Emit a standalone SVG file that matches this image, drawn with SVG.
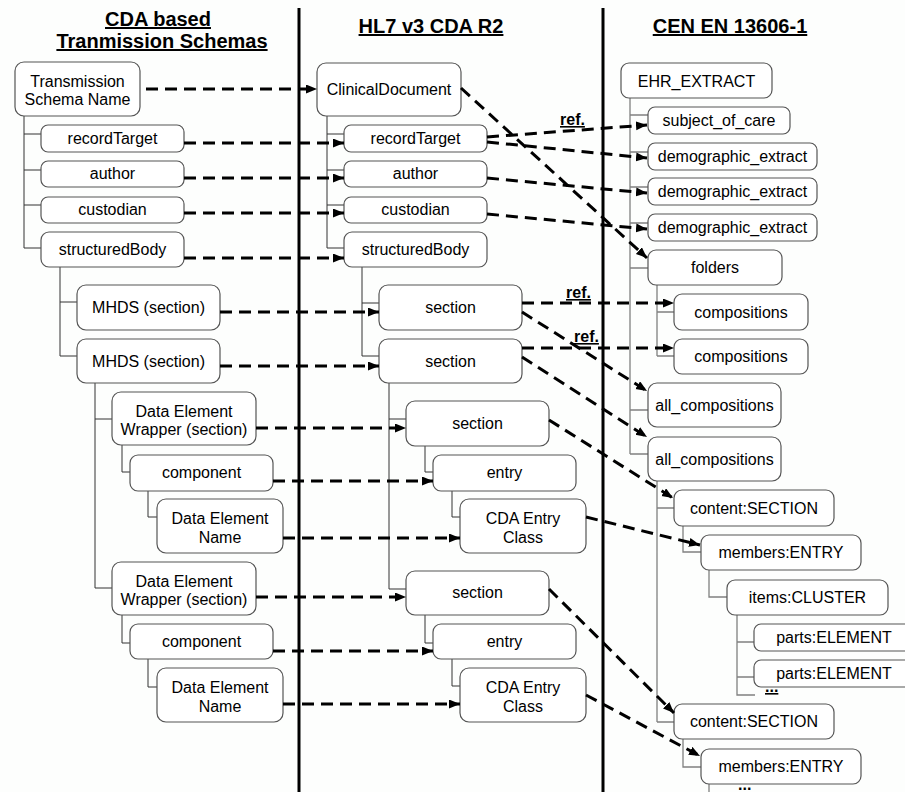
<svg xmlns="http://www.w3.org/2000/svg" width="905" height="792" viewBox="0 0 905 792">
<style>
.bg{fill:#fdfefd}
.box{fill:#ffffff;stroke:#555555;stroke-width:1.2}
.t{font-family:"Liberation Sans",Arial,sans-serif;font-size:16px;fill:#000;text-anchor:middle}
.h{font-family:"Liberation Sans",Arial,sans-serif;font-size:20px;font-weight:bold;fill:#000;text-anchor:middle;text-decoration:underline}
.ref{font-family:"Liberation Sans",Arial,sans-serif;font-size:16px;font-weight:bold;fill:#000;text-decoration:underline}
.dots{font-family:"Liberation Sans",Arial,sans-serif;font-size:16px;font-weight:bold;fill:#000}
.tree{fill:none;stroke:#333333;stroke-width:1}
.tree2{fill:none;stroke:#808080;stroke-width:1.3}
.div{stroke:#000;stroke-width:3}
.dash{fill:none;stroke:#000;stroke-width:3;stroke-dasharray:12 7;marker-end:url(#ah)}
</style>
<defs>
<marker id="ah" markerUnits="userSpaceOnUse" markerWidth="12" markerHeight="10" refX="11" refY="4.5" orient="auto">
<path d="M0,0 L11,4.5 L0,9 z" fill="#000"/>
</marker>
</defs>
<rect class="bg" x="0" y="0" width="905" height="792"/>

<g id="headers">
<text class="h" x="158" y="26">CDA based</text>
<text class="h" x="162" y="48">Tranmission Schemas</text>
<text class="h" x="431" y="33">HL7 v3 CDA R2</text>
<text class="h" x="730" y="33">CEN EN 13606-1</text>
</g>

<g id="dividers">
<line class="div" x1="299" y1="8" x2="299" y2="792"/>
<line class="div" x1="603" y1="8" x2="603" y2="792"/>
</g>

<g id="tree-lines">
<path class="tree" d="M24,116 V248 M24,134 H41 M24,170 H41 M24,205 H41 M24,248 H41
M60,267 V356 M60,302 H77 M60,356 H77
M95,383 V588 M95,419 H112 M95,588 H112
M122,445 V472 H130 M148,491 V517 H157
M122,615 V643 H130 M148,659 V687 H157"/>
<path class="tree" d="M327,116 V248 M327,134 H344 M327,170 H344 M327,205 H344 M327,248 H344
M362,267 V356 M362,303 H379 M362,356 H379
M389,383 V589 M389,419 H406 M389,589 H406
M425,446 V472 H433 M452,491 V517 H460
M425,615 V643 H433 M452,659 V686 H460"/>
<path class="tree2" d="M630,98 V454 M630,115 H648 M630,152 H648 M630,187 H648 M630,223 H648 M630,268 H648 M630,410 H648 M630,454 H648
M657,285 V356 M657,312 H674 M657,356 H674
M657,481 V722 M657,508 H674 M657,722 H674
M683,526 V552 H701 M709,570 V597 H727
M737,615 V695 H755 M737,642 H754 M737,677 H754
M683,739 V767 H701 M709,784 V792"/>
<text class="ref" x="765" y="692">...</text>
<text class="dots" x="738" y="790">...</text>
</g>

<g id="n_tsn"><rect class="box" x="15" y="62" width="125" height="54" rx="9"/><text class="t" x="77.5" y="87">Transmission</text><text class="t" x="77.5" y="105">Schema Name</text></g>
<g id="n_l_rt"><rect class="box" x="41" y="125" width="143" height="27" rx="7"/><text class="t" x="112.5" y="144">recordTarget</text></g>
<g id="n_l_au"><rect class="box" x="41" y="161" width="143" height="26" rx="7"/><text class="t" x="112.5" y="179">author</text></g>
<g id="n_l_cu"><rect class="box" x="41" y="197" width="143" height="26" rx="7"/><text class="t" x="112.5" y="215">custodian</text></g>
<g id="n_l_sb"><rect class="box" x="41" y="232" width="143" height="35" rx="8"/><text class="t" x="112.5" y="255">structuredBody</text></g>
<g id="n_l_mh1"><rect class="box" x="77" y="285" width="143" height="45" rx="9"/><text class="t" x="148.5" y="313">MHDS (section)</text></g>
<g id="n_l_mh2"><rect class="box" x="77" y="339" width="143" height="44" rx="9"/><text class="t" x="148.5" y="367">MHDS (section)</text></g>
<g id="n_l_dew1"><rect class="box" x="112" y="392" width="144" height="53" rx="9"/><text class="t" x="184" y="417">Data Element</text><text class="t" x="184" y="435">Wrapper (section)</text></g>
<g id="n_l_comp1"><rect class="box" x="130" y="455" width="143" height="36" rx="8"/><text class="t" x="201.5" y="478">component</text></g>
<g id="n_l_den1"><rect class="box" x="157" y="499" width="126" height="54" rx="9"/><text class="t" x="220" y="524">Data Element</text><text class="t" x="220" y="543">Name</text></g>
<g id="n_l_dew2"><rect class="box" x="112" y="562" width="144" height="53" rx="9"/><text class="t" x="184" y="587">Data Element</text><text class="t" x="184" y="605">Wrapper (section)</text></g>
<g id="n_l_comp2"><rect class="box" x="130" y="624" width="143" height="35" rx="8"/><text class="t" x="201.5" y="647">component</text></g>
<g id="n_l_den2"><rect class="box" x="157" y="668" width="126" height="54" rx="9"/><text class="t" x="220" y="693">Data Element</text><text class="t" x="220" y="712">Name</text></g>

<g id="n_cd"><rect class="box" x="317" y="63" width="144" height="53" rx="9"/><text class="t" x="389" y="95">ClinicalDocument</text></g>
<g id="n_m_rt"><rect class="box" x="344" y="125" width="143" height="27" rx="7"/><text class="t" x="415.5" y="144">recordTarget</text></g>
<g id="n_m_au"><rect class="box" x="344" y="161" width="143" height="26" rx="7"/><text class="t" x="415.5" y="179">author</text></g>
<g id="n_m_cu"><rect class="box" x="344" y="197" width="143" height="26" rx="7"/><text class="t" x="415.5" y="215">custodian</text></g>
<g id="n_m_sb"><rect class="box" x="344" y="232" width="143" height="35" rx="8"/><text class="t" x="415.5" y="255">structuredBody</text></g>
<g id="n_m_s1"><rect class="box" x="379" y="285" width="143" height="45" rx="9"/><text class="t" x="450.5" y="313">section</text></g>
<g id="n_m_s2"><rect class="box" x="379" y="339" width="143" height="44" rx="9"/><text class="t" x="450.5" y="367">section</text></g>
<g id="n_m_s3"><rect class="box" x="406" y="401" width="143" height="45" rx="9"/><text class="t" x="477.5" y="429">section</text></g>
<g id="n_m_e1"><rect class="box" x="433" y="455" width="143" height="36" rx="8"/><text class="t" x="504.5" y="478">entry</text></g>
<g id="n_m_c1"><rect class="box" x="460" y="499" width="126" height="54" rx="9"/><text class="t" x="523" y="524">CDA Entry</text><text class="t" x="523" y="543">Class</text></g>
<g id="n_m_s4"><rect class="box" x="406" y="571" width="143" height="44" rx="9"/><text class="t" x="477.5" y="598">section</text></g>
<g id="n_m_e2"><rect class="box" x="433" y="624" width="143" height="35" rx="8"/><text class="t" x="504.5" y="647">entry</text></g>
<g id="n_m_c2"><rect class="box" x="460" y="668" width="126" height="54" rx="9"/><text class="t" x="523" y="693">CDA Entry</text><text class="t" x="523" y="712">Class</text></g>

<g id="n_ehr"><rect class="box" x="621" y="63" width="151" height="35" rx="8"/><text class="t" x="696.5" y="87">EHR_EXTRACT</text></g>
<g id="n_soc"><rect class="box" x="648" y="107" width="142" height="27" rx="7"/><text class="t" x="719" y="126">subject_of_care</text></g>
<g id="n_de1"><rect class="box" x="648" y="143" width="169" height="27" rx="7"/><text class="t" x="732.5" y="162">demographic_extract</text></g>
<g id="n_de2"><rect class="box" x="648" y="178" width="169" height="27" rx="7"/><text class="t" x="732.5" y="197">demographic_extract</text></g>
<g id="n_de3"><rect class="box" x="648" y="214" width="169" height="27" rx="7"/><text class="t" x="732.5" y="233">demographic_extract</text></g>
<g id="n_fold"><rect class="box" x="648" y="250" width="134" height="35" rx="8"/><text class="t" x="715" y="273">folders</text></g>
<g id="n_comp1"><rect class="box" x="674" y="294" width="134" height="36" rx="8"/><text class="t" x="741" y="318">compositions</text></g>
<g id="n_comp2"><rect class="box" x="674" y="339" width="134" height="35" rx="8"/><text class="t" x="741" y="362">compositions</text></g>
<g id="n_all1"><rect class="box" x="648" y="383" width="133" height="44" rx="9"/><text class="t" x="714.5" y="411">all_compositions</text></g>
<g id="n_all2"><rect class="box" x="648" y="437" width="133" height="44" rx="9"/><text class="t" x="714.5" y="465">all_compositions</text></g>
<g id="n_cs1"><rect class="box" x="674" y="490" width="160" height="36" rx="8"/><text class="t" x="754" y="514">content:SECTION</text></g>
<g id="n_me1"><rect class="box" x="701" y="535" width="160" height="35" rx="8"/><text class="t" x="781" y="558">members:ENTRY</text></g>
<g id="n_ic"><rect class="box" x="727" y="580" width="161" height="35" rx="8"/><text class="t" x="807.5" y="603">items:CLUSTER</text></g>
<g id="n_pe1"><rect class="box" x="754" y="624" width="160" height="27" rx="7"/><text class="t" x="834" y="643">parts:ELEMENT</text></g>
<g id="n_pe2"><rect class="box" x="754" y="660" width="160" height="27" rx="7"/><text class="t" x="834" y="679">parts:ELEMENT</text></g>
<g id="n_cs2"><rect class="box" x="674" y="704" width="160" height="35" rx="8"/><text class="t" x="754" y="727">content:SECTION</text></g>
<g id="n_me2"><rect class="box" x="701" y="749" width="160" height="35" rx="8"/><text class="t" x="781" y="772">members:ENTRY</text></g>

<g id="connectors">
<line class="dash" x1="146" y1="89" x2="317" y2="89"/>
<line class="dash" x1="184" y1="143" x2="344" y2="143"/>
<line class="dash" x1="184" y1="178" x2="344" y2="178"/>
<line class="dash" x1="184" y1="213" x2="344" y2="213"/>
<line class="dash" x1="184" y1="258" x2="344" y2="258"/>
<line class="dash" x1="220" y1="312" x2="379" y2="312"/>
<line class="dash" x1="220" y1="366" x2="379" y2="366"/>
<line class="dash" x1="256" y1="428" x2="406" y2="428"/>
<line class="dash" x1="273" y1="481" x2="433" y2="481"/>
<line class="dash" x1="283" y1="538" x2="460" y2="538"/>
<line class="dash" x1="256" y1="597" x2="406" y2="597"/>
<line class="dash" x1="273" y1="651" x2="433" y2="651"/>
<line class="dash" x1="283" y1="704" x2="460" y2="704"/>

<line class="dash" x1="461" y1="88" x2="647" y2="258"/>
<line class="dash" x1="487" y1="137" x2="647" y2="125"/>
<line class="dash" x1="487" y1="142" x2="647" y2="158"/>
<line class="dash" x1="487" y1="178" x2="647" y2="193"/>
<line class="dash" x1="487" y1="214" x2="647" y2="229"/>
<line class="dash" x1="522" y1="303" x2="674" y2="303"/>
<line class="dash" x1="522" y1="312" x2="647" y2="391"/>
<line class="dash" x1="522" y1="348" x2="674" y2="348"/>
<line class="dash" x1="522" y1="357" x2="647" y2="437"/>
<line class="dash" x1="549" y1="420" x2="673" y2="498"/>
<line class="dash" x1="586" y1="517" x2="700" y2="545"/>
<line class="dash" x1="549" y1="589" x2="674" y2="713"/>
<line class="dash" x1="586" y1="695" x2="700" y2="756"/>

<text class="ref" x="560" y="125">ref.</text>
<text class="ref" x="566" y="298">ref.</text>
<text class="ref" x="574" y="342">ref.</text>
</g>
</svg>
